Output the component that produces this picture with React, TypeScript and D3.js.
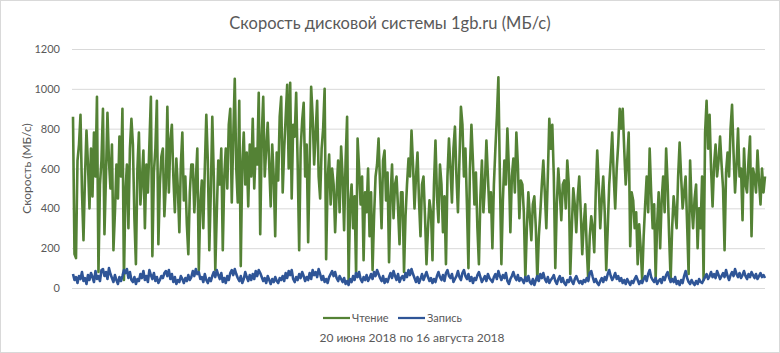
import React, { useEffect, useRef } from 'react';
import * as d3 from 'd3';

const chartTitle = 'Скорость дисковой системы 1gb.ru (МБ/с)';
const periodLabel = '20 июня 2018 по 16 августа 2018';
const yAxisLabel = 'Скорость (МБ/с)';
const yTicks = [0, 200, 400, 600, 800, 1000, 1200];
const seriesNames = ['Чтение', 'Запись'];
const seriesColors = ['#548235', '#2f5597'];

// read speed, MB/s (samples along the period, 20 per row)
const readSpeed = [
  860, 170, 150, 640, 720, 870, 480, 240, 560, 790, 620, 400, 700, 460, 780, 560, 960, 80, 520, 640,
  900, 270, 560, 880, 640, 500, 720, 190, 380, 620, 450, 760, 560, 900, 40, 480, 620, 300, 700, 850,
  720, 350, 120, 600, 780, 420, 540, 690, 300, 620, 480, 720, 960, 160, 580, 700, 940, 220, 520, 660,
  700, 360, 520, 910, 480, 740, 820, 560, 380, 650, 500, 280, 620, 780, 440, 560, 320, 170, 480, 620,
  620, 380, 540, 700, 90, 420, 540, 300, 600, 870, 640, 190, 480, 860, 560, 90, 380, 640, 520, 700,
  190, 560, 700, 500, 820, 900, 430, 760, 1050, 600, 430, 940, 110, 620, 780, 520, 680, 410, 720, 560,
  850, 500, 700, 620, 980, 270, 760, 960, 560, 700, 830, 620, 410, 720, 560, 260, 680, 540, 860, 960,
  480, 700, 860, 1020, 600, 1030, 450, 820, 760, 980, 620, 190, 700, 840, 930, 560, 720, 230, 640, 1010,
  860, 620, 780, 940, 560, 450, 700, 800, 1000, 145, 540, 670, 420, 600, 520, 280, 480, 640, 380, 710,
  560, 290, 640, 860, 40, 420, 520, 300, 460, 70, 750, 600, 420, 560, 140, 480, 380, 600, 260, 480,
  90, 360, 560, 620, 750, 520, 300, 640, 690, 440, 580, 130, 460, 620, 350, 520, 560, 400, 220, 480,
  480, 80, 360, 520, 650, 560, 790, 620, 400, 560, 680, 440, 260, 520, 560, 360, 120, 300, 440, 380,
  140, 520, 740, 460, 330, 620, 520, 280, 460, 120, 560, 750, 600, 430, 700, 810, 560, 380, 640, 910,
  820, 560, 700, 420, 100, 600, 820, 640, 420, 580, 300, 120, 460, 640, 380, 520, 740, 560, 380, 480,
  200, 520, 700, 860, 1058, 560, 120, 440, 640, 520, 800, 600, 280, 560, 650, 480, 780, 620, 350, 540,
  520, 380, 50, 300, 480, 360, 240, 420, 460, 300, 40, 260, 380, 520, 640, 480, 300, 560, 850, 700,
  820, 560, 100, 420, 600, 480, 340, 520, 540, 400, 640, 520, 70, 300, 500, 420, 280, 460, 560, 380,
  170, 320, 420, 200, 40, 260, 360, 300, 180, 480, 690, 520, 300, 440, 560, 380, 90, 300, 520, 640,
  780, 560, 400, 600, 720, 900, 800, 900, 700, 520, 640, 780, 210, 480, 440, 300, 380, 120, 320, 200,
  40, 260, 420, 560, 380, 700, 480, 300, 420, 50, 320, 480, 200, 440, 560, 380, 700, 520, 260, 40,
  300, 460, 380, 300, 560, 730, 560, 400, 480, 560, 320, 70, 640, 420, 300, 450, 520, 200, 400, 300,
  560, 40, 780, 940, 700, 870, 600, 410, 620, 720, 560, 640, 760, 620, 500, 190, 580, 680, 560, 800,
  920, 680, 480, 620, 800, 560, 600, 340, 700, 520, 480, 640, 760, 260, 600, 560, 480, 690, 540, 420, 600, 480, 560,
];

// write speed, MB/s
const writeSpeed = [
  70, 40, 55, 25, 60, 45, 80, 35, 50, 20, 65, 40, 75, 55, 30, 85, 45, 60, 35, 90,
  95, 60, 80, 45, 100, 70, 50, 30, 65, 40, 20, 55, 35, 60, 90, 75, 95, 50, 80, 40,
  30, 55, 20, 45, 35, 70, 50, 85, 40, 60, 30, 90, 65, 45, 75, 35, 55, 25, 40, 60,
  50, 75, 85, 60, 90, 45, 70, 30, 55, 20, 40, 30, 60, 45, 25, 50, 35, 65, 40, 55,
  85, 60, 95, 70, 80, 45, 55, 30, 70, 40, 25, 50, 35, 60, 80, 55, 90, 65, 45, 75,
  30, 50, 25, 60, 40, 75, 90, 65, 95, 70, 50, 35, 60, 25, 45, 80, 55, 35, 65, 40,
  70, 45, 85, 60, 90, 75, 55, 35, 50, 25, 60, 40, 20, 45, 30, 55, 35, 25, 50, 40,
  60, 35, 75, 50, 85, 65, 90, 45, 30, 55, 40, 70, 50, 80, 60, 35, 55, 40, 75, 45,
  90, 65, 80, 55, 95, 70, 40, 60, 30, 45, 25, 55, 70, 85, 60, 80, 50, 35, 60, 45,
  30, 50, 20, 35, 15, 45, 30, 60, 40, 75, 55, 80, 45, 30, 55, 40, 65, 35, 50, 70,
  45, 80, 60, 90, 70, 50, 35, 60, 25, 45, 30, 55, 75, 50, 85, 60, 40, 70, 30, 50,
  60, 40, 75, 55, 90, 65, 95, 70, 50, 30, 55, 25, 45, 70, 40, 60, 80, 55, 35, 50,
  25, 45, 30, 60, 80, 55, 40, 65, 35, 75, 90, 60, 50, 70, 30, 45, 60, 85, 55, 40,
  75, 90, 60, 45, 70, 35, 55, 25, 50, 40, 65, 80, 55, 30, 45, 60, 35, 70, 50, 40,
  30, 55, 70, 45, 85, 60, 40, 65, 50, 75, 35, 20, 45, 60, 80, 55, 40, 65, 35, 50,
  40, 25, 55, 35, 60, 30, 20, 45, 15, 40, 60, 35, 70, 50, 75, 45, 30, 55, 25, 40,
  50, 65, 35, 20, 45, 60, 30, 50, 25, 15, 40, 30, 55, 35, 20, 45, 60, 40, 25, 35,
  20, 40, 30, 50, 35, 75, 85, 55, 30, 45, 25, 15, 35, 50, 30, 55, 40, 70, 90, 60,
  40, 55, 75, 45, 60, 35, 50, 25, 40, 20, 45, 30, 15, 35, 25, 45, 60, 40, 20, 35,
  25, 45, 60, 35, 70, 90, 55, 40, 30, 50, 20, 35, 45, 25, 55, 40, 65, 80, 50, 30,
  45, 30, 55, 20, 35, 15, 40, 25, 60, 85, 50, 30, 20, 40, 25, 15, 35, 20, 45, 30,
  25, 40, 55, 70, 45, 60, 80, 55, 70, 50, 85, 65, 45, 60, 75, 55, 90, 60, 40, 65,
  80, 60, 95, 70, 55, 75, 50, 65, 85, 60, 45, 70, 55, 80, 65, 50, 70, 45, 60, 75, 55, 65, 50,
];

const App = () => {
  const svgRef = useRef<SVGSVGElement>(null);

  useEffect(() => {
    const width = 780;
    const height = 353;
    const marginTop = 49;
    const marginRight = 15;
    const marginBottom = 65;
    const marginLeft = 72;
    const font = 'Lato, "Open Sans", sans-serif';
    const textColor = '#595959';

    const svg = d3.select(svgRef.current);
    svg.selectAll('*').remove();

    // chart frame
    svg.append('rect')
      .attr('x', 0.5).attr('y', 0.5)
      .attr('width', width - 1).attr('height', height - 1)
      .attr('fill', '#fff')
      .attr('stroke', '#d9d9d9');

    const xRead = d3.scaleLinear()
      .domain([0, readSpeed.length - 1])
      .range([marginLeft + 1, width - marginRight]);
    const xWrite = d3.scaleLinear()
      .domain([0, writeSpeed.length - 1])
      .range([marginLeft + 1, width - marginRight]);

    const y = d3.scaleLinear()
      .domain([0, 1200])
      .range([height - marginBottom, marginTop]);

    // gridlines + tick labels
    const yAxis = svg.append('g')
      .attr('transform', `translate(${marginLeft}, 0)`)
      .call(d3.axisLeft(y)
        .tickValues(yTicks)
        .tickFormat(d3.format('d'))
        .tickSize(-(width - marginLeft - marginRight))
        .tickPadding(12))
      .call(g => g.select('.domain').remove());
    yAxis.selectAll('.tick line').attr('stroke', '#d9d9d9');
    yAxis.selectAll('.tick text')
      .attr('fill', textColor)
      .attr('font-family', font)
      .attr('font-size', 11);

    // title
    svg.append('text')
      .attr('x', width / 2)
      .attr('y', 29)
      .attr('text-anchor', 'middle')
      .attr('fill', textColor)
      .attr('font-family', font)
      .attr('font-size', 16.5)
      .text(chartTitle);

    // y axis title
    svg.append('text')
      .attr('transform', `translate(31, ${(y(0) + y(1200)) / 2}) rotate(-90)`)
      .attr('text-anchor', 'middle')
      .attr('fill', textColor)
      .attr('font-family', font)
      .attr('font-size', 12)
      .text(yAxisLabel);

    const scales = [xRead, xWrite];
    [readSpeed, writeSpeed].forEach((series, k) => {
      const line = d3.line<number>()
        .x((d, i) => scales[k](i))
        .y(d => y(d));
      svg.append('path')
        .datum(series)
        .attr('fill', 'none')
        .attr('stroke', seriesColors[k])
        .attr('stroke-width', 2.6)
        .attr('stroke-linejoin', 'round')
        .attr('d', line);
    });

    // legend
    const legendX = [323, 398];
    const legendY = 318;
    seriesNames.forEach((name, k) => {
      svg.append('line')
        .attr('x1', legendX[k]).attr('x2', legendX[k] + 27)
        .attr('y1', legendY).attr('y2', legendY)
        .attr('stroke', seriesColors[k])
        .attr('stroke-width', 2.25);
      svg.append('text')
        .attr('x', legendX[k] + 29)
        .attr('y', legendY + 4)
        .attr('fill', textColor)
        .attr('font-family', font)
        .attr('font-size', 11)
        .text(name);
    });

    svg.append('text')
      .attr('x', 412)
      .attr('y', 342)
      .attr('text-anchor', 'middle')
      .attr('fill', textColor)
      .attr('font-family', font)
      .attr('font-size', 12)
      .text(periodLabel);
  }, []);

  return (
    <svg
      ref={svgRef}
      width={780}
      height={353}
      style={{ position: 'absolute', left: 0, top: 0 }}
    />
  );
};

export default App;
